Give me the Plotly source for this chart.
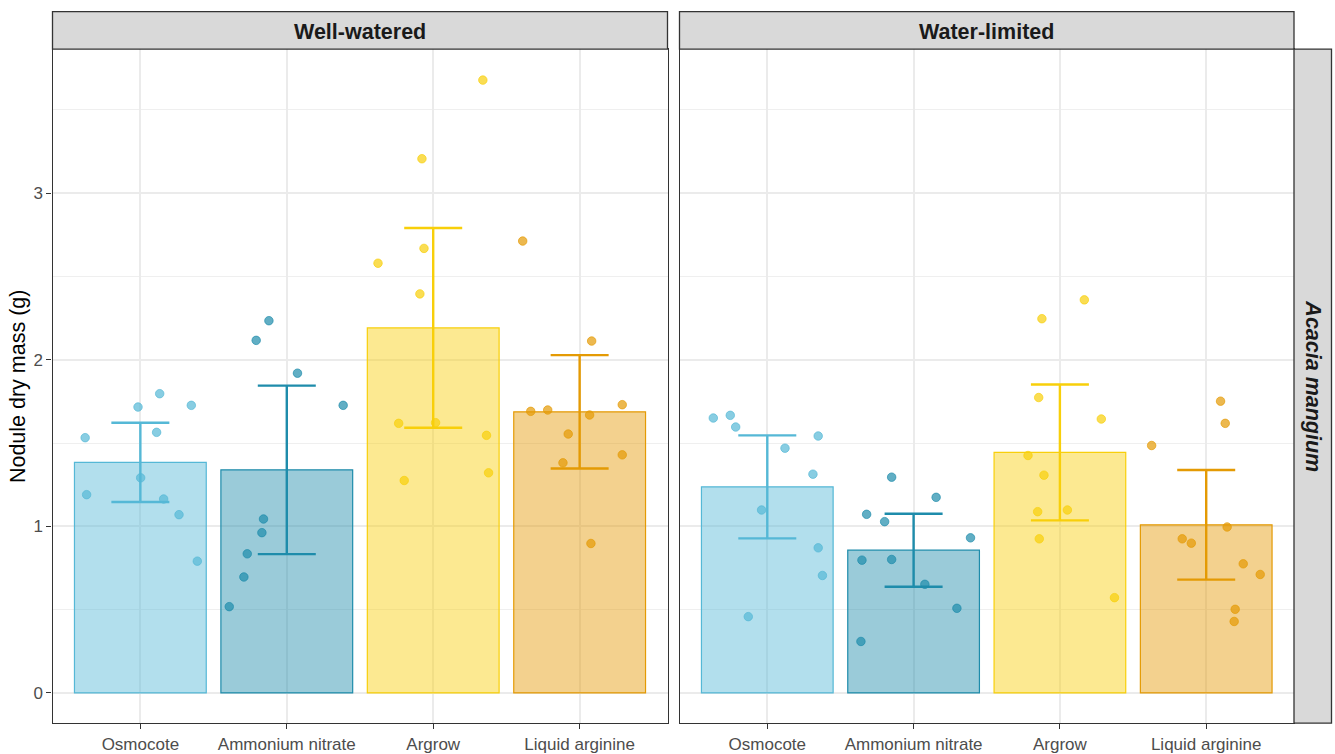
import numpy as np
import plotly.graph_objects as go

# ---- data -------------------------------------------------------------
treatments = ["Osmocote", "Ammonium nitrate", "Argrow", "Liquid arginine"]
watering = ["Well-watered", "Water-limited"]
species = "Acacia mangium"

# nodule dry mass (g) per plant, one list per treatment
ww_osmocote = [1.716, 1.796, 1.726, 1.532, 1.564, 1.291, 1.190, 1.164, 1.070, 0.791]
ww_ammonium = [2.116, 2.234, 1.919, 1.726, 1.044, 0.962, 0.835, 0.696, 0.518]
ww_argrow = [3.678, 3.206, 2.668, 2.579, 2.395, 1.618, 1.622, 1.546, 1.321, 1.275]
ww_arginine = [2.712, 2.112, 1.730, 1.690, 1.698, 1.668, 1.554, 1.429, 1.381, 0.897]

wl_osmocote = [1.650, 1.666, 1.596, 1.542, 1.469, 1.313, 1.098, 0.871, 0.705, 0.458]
wl_ammonium = [1.295, 1.174, 1.072, 1.028, 0.931, 0.797, 0.801, 0.652, 0.508, 0.309]
wl_argrow = [2.359, 2.246, 1.773, 1.644, 1.425, 1.307, 1.098, 1.088, 0.925, 0.572]
wl_arginine = [1.751, 1.618, 1.485, 0.996, 0.925, 0.899, 0.775, 0.711, 0.502, 0.429]

# horizontal jitter of each plant's point (fraction of a category slot)
ww_osmocote_jit = [-0.016, 0.132, 0.348, -0.377, 0.111, 0.002, -0.367, 0.159, 0.264, 0.389]
ww_ammonium_jit = [-0.209, -0.122, 0.073, 0.385, -0.159, -0.170, -0.270, -0.293, -0.393]
ww_argrow_jit = [0.339, -0.077, -0.063, -0.377, -0.091, -0.236, 0.016, 0.364, 0.378, -0.198]
ww_arginine_jit = [-0.389, 0.082, 0.291, -0.334, -0.218, 0.068, -0.078, 0.291, -0.114, 0.077]

wl_osmocote_jit = [-0.369, -0.253, -0.216, 0.348, 0.121, 0.312, -0.039, 0.348, 0.377, -0.130]
wl_ammonium_jit = [-0.150, 0.154, -0.321, -0.198, 0.389, -0.353, -0.150, 0.077, 0.296, -0.360]
wl_argrow_jit = [0.167, -0.123, -0.145, 0.283, -0.218, -0.109, 0.051, -0.152, -0.141, 0.373]
wl_arginine_jit = [0.098, 0.130, -0.373, 0.143, -0.164, -0.102, 0.253, 0.369, 0.198, 0.191]

panels = {
    "Well-watered": [ww_osmocote, ww_ammonium, ww_argrow, ww_arginine],
    "Water-limited": [wl_osmocote, wl_ammonium, wl_argrow, wl_arginine],
}
jitters = {
    "Well-watered": [ww_osmocote_jit, ww_ammonium_jit, ww_argrow_jit, ww_arginine_jit],
    "Water-limited": [wl_osmocote_jit, wl_ammonium_jit, wl_argrow_jit, wl_arginine_jit],
}

# ---- style ------------------------------------------------------------
colors = ["#55B8D6", "#1E8CAB", "#F8CF0A", "#E49A04"]
FONT = "Liberation Sans, Arial, sans-serif"
W, H = 1335, 754
T_CRIT = {9: 2.306, 10: 2.262}  # two-sided 95% t quantiles, df = n - 1


def rgba(hex_color, a):
    h = hex_color.lstrip("#")
    r, g, b = int(h[0:2], 16), int(h[2:4], 16), int(h[4:6], 16)
    return f"rgba({r},{g},{b},{a})"


def px_x(p):
    return p / W


def px_y(p):
    return 1 - p / H


fig = go.Figure()

for k, cond in enumerate(watering):
    xa = "x" if k == 0 else "x2"
    ya = "y" if k == 0 else "y2"
    groups = panels[cond]
    means = [float(np.mean(g)) for g in groups]
    cis = [T_CRIT[len(g)] * float(np.std(g, ddof=1)) / np.sqrt(len(g)) for g in groups]
    pos = list(range(1, len(treatments) + 1))

    # mean bars
    fig.add_trace(go.Bar(
        x=pos, y=means, width=0.9, xaxis=xa, yaxis=ya,
        marker=dict(color=[rgba(c, 0.45) for c in colors],
                    line=dict(color=colors, width=1.2)),
        showlegend=False, hoverinfo="skip",
    ))

    # 95% confidence intervals
    for i in range(len(treatments)):
        fig.add_trace(go.Scatter(
            x=[pos[i]], y=[means[i]], mode="markers", xaxis=xa, yaxis=ya,
            marker=dict(size=1, opacity=0),
            error_y=dict(type="data", array=[cis[i]], symmetric=True,
                         color=colors[i], thickness=2.4, width=29),
            showlegend=False, hoverinfo="skip",
        ))

    # individual plants
    for i in range(len(treatments)):
        xs = [pos[i] + j for j in jitters[cond][i]]
        fig.add_trace(go.Scatter(
            x=xs, y=groups[i], mode="markers", xaxis=xa, yaxis=ya,
            marker=dict(size=8.5, color=rgba(colors[i], 0.7),
                        line=dict(color=rgba(colors[i], 0.85), width=0.8)),
            showlegend=False, hoverinfo="skip",
        ))

# ---- axes -------------------------------------------------------------
top_px, bot_px = 49.3, 726.0
y_dom = [px_y(bot_px), px_y(top_px)]
panel_px = [(52.5, 667.5), (679.5, 1294.0)]

xcommon = dict(
    range=[0.4, 4.6], tickmode="array", tickvals=[1, 2, 3, 4], ticktext=treatments,
    showgrid=True, gridcolor="#EBEBEB", gridwidth=1.5, zeroline=False,
    showline=True, mirror=True, linecolor="#333333", linewidth=1.3,
    ticks="outside", ticklen=5, tickwidth=1.3, tickcolor="#333333",
    tickfont=dict(family=FONT, size=17, color="#4D4D4D"), fixedrange=True,
)
ycommon = dict(
    range=[-0.181, 3.864], tickmode="array", tickvals=[0, 1, 2, 3],
    showgrid=True, gridcolor="#EBEBEB", gridwidth=1.5, zeroline=False,
    showline=True, mirror=True, linecolor="#333333", linewidth=1.3,
    minor=dict(tickmode="array", tickvals=[0.5, 1.5, 2.5, 3.5], showgrid=True,
               gridcolor="#EFEFEF", gridwidth=1.2, ticks=""),
    domain=y_dom, fixedrange=True,
)

fig.update_layout(
    width=W, height=H, margin=dict(l=0, r=0, t=0, b=0),
    paper_bgcolor="white", plot_bgcolor="white", barmode="overlay",
    xaxis=dict(xcommon, domain=[px_x(panel_px[0][0]), px_x(panel_px[0][1])], anchor="y"),
    xaxis2=dict(xcommon, domain=[px_x(panel_px[1][0]), px_x(panel_px[1][1])], anchor="y2"),
    yaxis=dict(ycommon, anchor="x", ticks="outside", ticklen=5, tickwidth=1.3,
               tickcolor="#333333",
               tickfont=dict(family=FONT, size=17, color="#4D4D4D")),
    yaxis2=dict(ycommon, anchor="x2", matches="y", showticklabels=False, ticks=""),
    font=dict(family=FONT),
)

# ---- facet strips -----------------------------------------------------
shapes = []
annotations = []
strip_top = 11.7
for (x0, x1), cond in zip(panel_px, watering):
    shapes.append(dict(type="rect", xref="paper", yref="paper",
                       x0=px_x(x0), x1=px_x(x1), y0=px_y(top_px), y1=px_y(strip_top),
                       fillcolor="#D9D9D9", line=dict(color="#333333", width=1.3)))
    annotations.append(dict(xref="paper", yref="paper", x=px_x((x0 + x1) / 2),
                            y=px_y((top_px + strip_top) / 2 + 1.5), text=f"<b>{cond}</b>",
                            showarrow=False, xanchor="center", yanchor="middle",
                            font=dict(family=FONT, size=21.5, color="#1A1A1A")))

shapes.append(dict(type="rect", xref="paper", yref="paper",
                   x0=px_x(1294.0), x1=px_x(1331.5), y0=px_y(bot_px), y1=px_y(top_px),
                   fillcolor="#D9D9D9", line=dict(color="#333333", width=1.3)))
annotations.append(dict(xref="paper", yref="paper", x=px_x((1294.0 + 1331.5) / 2),
                        y=px_y((top_px + bot_px) / 2), text=f"<b><i>{species}</i></b>",
                        textangle=90, showarrow=False, xanchor="center", yanchor="middle",
                        font=dict(family=FONT, size=21.5, color="#1A1A1A")))

# y-axis title
annotations.append(dict(xref="paper", yref="paper", x=px_x(18), y=px_y((top_px + bot_px) / 2),
                        text="Nodule dry mass (g)", textangle=-90, showarrow=False,
                        xanchor="center", yanchor="middle",
                        font=dict(family=FONT, size=21.5, color="#000000")))

fig.update_layout(shapes=shapes, annotations=annotations)

fig.write_html("out.html")
